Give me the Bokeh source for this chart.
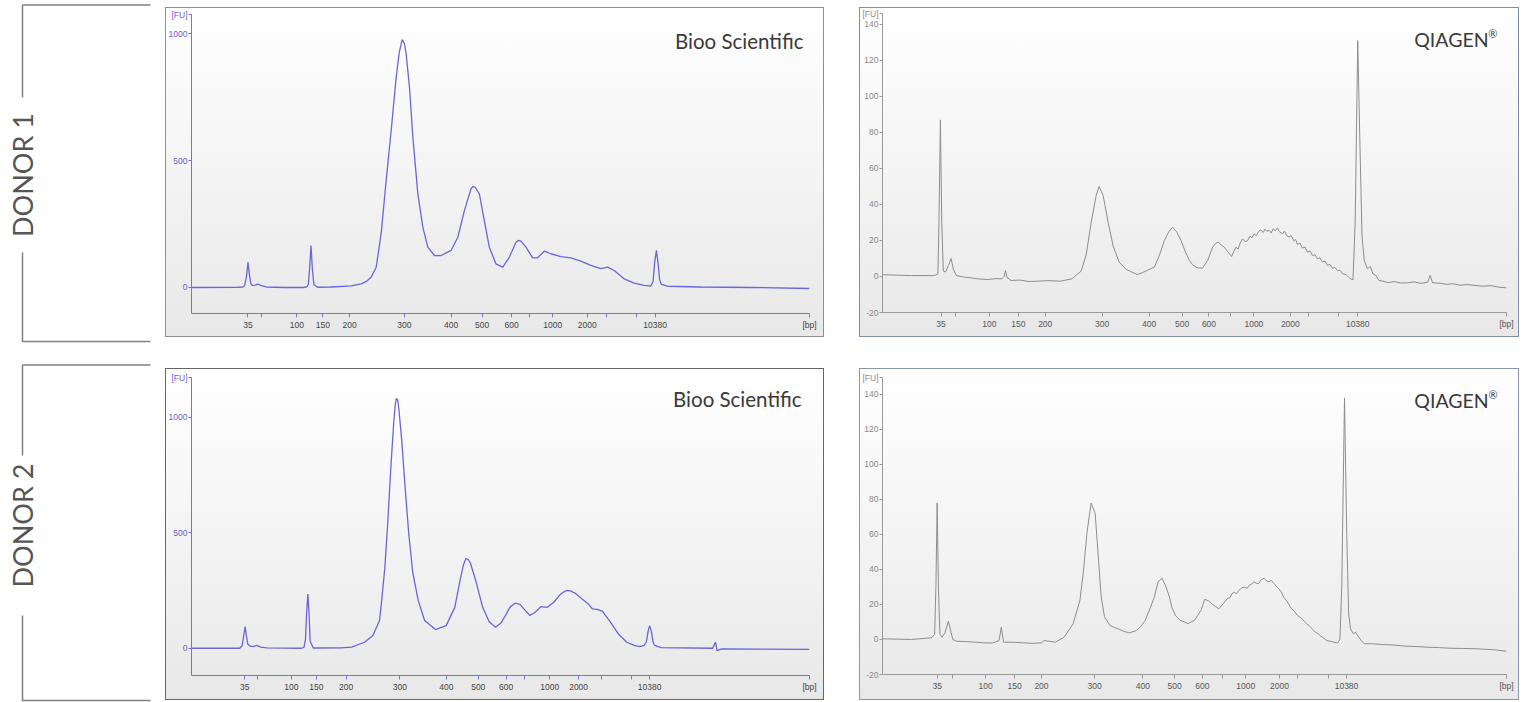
import math
from bokeh.plotting import figure
from bokeh.models import Range1d, FixedTicker, Label, Spacer
from bokeh.layouts import row, column
from bokeh.core.properties import value
from bokeh.embed import file_html
from bokeh.resources import INLINE

# ---------------- data ----------------
ladder_bp = [35, 50, 100, 150, 200, 300, 400, 500, 600, 700, 1000, 2000, 3000, 7000, 10380]
ladder_labels = ["35", "", "100", "150", "200", "300", "400", "500", "600", "", "1000", "2000", "", "", "10380"]

# migration time (s) of each ladder peak in each run
ladder_t_bioo_d1 = [49.14, 51.37, 57.04, 61.24, 65.57, 74.46, 82.0, 87.01, 91.79, 94.73, 98.45, 104.04, 107.19, 112.08, 115.02]
ladder_t_qiagen_d1 = [49.38, 51.68, 57.12, 61.76, 66.08, 75.2, 82.72, 88.0, 92.32, 95.76, 99.52, 105.36, 108.26, 113.12, 116.16]
ladder_t_bioo_d2 = [48.62, 50.71, 56.17, 60.19, 65.02, 73.7, 81.25, 86.4, 90.9, 93.95, 97.97, 102.64, 106.27, 111.16, 114.13]
ladder_t_qiagen_d2 = [48.76, 51.15, 56.53, 61.18, 65.48, 74.0, 81.72, 86.82, 91.27, 94.46, 98.22, 103.61, 106.5, 111.5, 114.36]

# electropherogram traces: time (s), fluorescence (FU)
bioo_d1_t = [40, 47.5, 48.3, 48.6, 48.9, 49.14, 49.35, 49.6, 49.85, 50.3, 50.78, 51.3, 52.1, 55, 58.2, 58.7, 58.9,
             59.1, 59.34, 59.55, 59.8, 60.4, 62.6, 65.85, 67.46, 68.3, 69.08, 69.89, 70.69, 71.5, 72.31, 73.12,
             73.6, 74.09, 74.45, 74.73, 75.27, 75.82, 76.62, 77.43, 78.24, 79.31, 80.39, 82.0, 83.09, 84.16,
             85.23, 85.55, 85.88, 86.58, 87.38, 88.19, 89.27, 90.36, 91.42, 92.5, 92.9, 93.31, 94.12, 95.2, 96.01,
             97.07, 98.16, 99.77, 101.39, 103.0, 104.62, 106.24, 107.32, 108.39, 110.0, 111.62, 113.23, 114.32,
             114.7, 114.95, 115.23, 115.5, 115.75, 116.04, 117.01, 122.4, 130.5, 140]
bioo_d1_fu = [0, 1, 2, 8, 45, 100, 55, 15, 8, 9, 13, 7, 2, 0, 0, 3, 12,
              70, 165, 75, 12, 1, 2, 6, 14, 24, 41, 80, 213, 422, 619, 829,
              925, 977, 962, 922, 790, 592, 370, 238, 159, 126, 126, 146, 198, 303,
              389, 398, 396, 369, 264, 159, 93, 80, 119, 178, 186, 183, 159, 117, 117,
              143, 133, 122, 117, 104, 87, 74, 80, 67, 34, 17, 8, 5,
              25, 100, 146, 95, 30, 12, 5, 2, 0, -4]

qiagen_d1_t = [40, 44.64, 48.32, 48.88, 49.05, 49.28, 49.5, 49.75, 50.1, 50.55, 51.0, 51.35, 51.84, 53.0, 54.08,
               55.5, 56.96, 58.0, 59.14, 59.5, 59.71, 59.95, 60.58, 62.0, 63.5, 64.91, 66.5, 68.53, 70.34, 71.84,
               72.64, 73.44, 74.24, 74.72, 75.36, 76.16, 76.96, 77.92, 79.04, 80.8, 81.44, 82.5, 83.57, 84.4,
               85.17, 85.9, 86.51, 87.2, 87.84, 88.5, 89.17, 89.7, 90.24, 90.8, 91.31, 92.11, 92.5, 92.91, 93.4,
               93.81, 94.3, 94.77, 95.4, 95.95, 96.3, 96.64, 97.0, 97.3, 97.71, 98.1, 98.51, 98.9, 99.2, 99.57,
               99.9, 100.3, 100.64, 101.0, 101.3, 101.6, 101.97, 102.3, 102.6, 102.95, 103.31, 103.6, 104.11,
               104.4, 104.8, 105.17, 105.5, 105.9, 106.2, 106.51, 106.9, 107.3, 107.7, 108.11, 108.5, 108.9,
               109.3, 109.71, 110.1, 110.5, 110.9, 111.31, 111.7, 112.1, 112.5, 112.91, 113.3, 113.8, 114.3,
               114.7, 115.04, 115.4, 115.75, 116.16, 116.5, 116.85, 117.2, 117.71, 118.2, 118.6, 119.0, 119.57,
               120.2, 121.0, 122.0, 123.0, 124.16, 125.2, 126.3, 127.36, 127.76, 128.16, 129.5, 130.5, 131.36,
               132.5, 133.8, 134.98, 136.2, 137.5, 138.7, 140]
qiagen_d1_fu = [1, 0.5, 0.5, 1.5, 30, 87, 30, 3, 2.5, 6, 10, 4, 0.5, -0.3, -0.7,
                -1.4, -1.7, -1.2, -1.3, 0, 3.3, -0.5, -2.2, -2.0, -2.8, -2.6, -2.3, -2.6, -1.3, 3,
                12, 30, 45, 50, 45, 30, 17, 8, 4, 1.1, 1.8, 3.5, 5.2, 12,
                20, 25, 27.4, 24.5, 20, 14, 8.9, 6.5, 5.2, 4.6, 4.8, 8.9, 12.5, 16.3, 18.5,
                19, 17.5, 16.3, 13.5, 11.1, 14, 16.3, 15.2, 18.5, 20.9, 19.3, 20, 22.4, 21.5, 23.7,
                22.6, 25.1, 25.9, 24.4, 26.3, 25.1, 25.6, 24.2, 26.5, 25.4, 27, 24.9, 23.7,
                25.2, 22.6, 21.9, 22.8, 19.9, 20.5, 17.8, 18.6, 15.8, 16.4, 13.5, 14.2, 11.6,
                12.1, 9.8, 10.4, 8.2, 8.6, 6.1, 6.8, 4.6, 5.0, 3.3, 3.5, 1.4, 1.0,
                -0.4, -1.3, -1.8, 30, 131, 75, 22, 9, 4.3, 5.5, 1.5, 0.8, -2.2,
                -2.6, -3.4, -2.8, -3.6, -3.5, -3.0, -3.8, -3.2, 0.6, -3.5, -3.8, -4.4, -4,
                -4.8, -4.5, -5, -5.4, -5.1, -5.9, -6.3]

bioo_d2_t = [40, 47.81, 48.2, 48.45, 48.67, 48.85, 49.1, 49.58, 50.06, 50.55, 51.19, 52.15, 57.78, 58.2, 58.45,
             58.62, 58.83, 59.02, 59.2, 59.71, 64.21, 65.9, 67.99, 69.36, 70.42, 70.77, 71.29, 71.77, 72.25,
             72.73, 72.95, 73.14, 73.35, 73.54, 74.02, 74.5, 75.14, 75.79, 76.69, 77.72, 79.48, 81.21, 82.6,
             83.5, 84.0, 84.39, 84.75, 85.11, 85.92, 87.12, 88.17, 89.21, 90.1, 90.95, 91.54, 92.35, 93.15,
             93.96, 94.76, 95.56, 96.53, 97.57, 98.62, 99.58, 100.2, 100.71, 101.3, 101.99, 103.12, 104.08,
             104.89, 105.69, 106.5, 107.62, 109.07, 110.43, 111.64, 112.53, 113.25, 113.6, 113.9, 114.13,
             114.4, 114.7, 114.97, 115.98, 124.34, 124.78, 125.05, 125.76, 140]
bioo_d2_fu = [0, 0, 12, 55, 94, 60, 18, 8, 8, 12, 5, 2, 0, 4, 40,
              150, 235, 150, 30, 1, 2, 5, 26, 55, 120, 206, 350, 550, 780,
              980, 1050, 1081, 1075, 1040, 900, 720, 500, 330, 206, 120, 81, 98, 177,
              300, 360, 388, 385, 370, 300, 177, 115, 91, 110, 149, 178, 195, 190,
              165, 142, 155, 180, 177, 199, 230, 243, 250, 248, 240, 215, 195,
              170, 168, 160, 120, 62, 26, 12, 7, 12, 28, 75, 98,
              75, 25, 12, 3, 0, 26, -10, -3, -5]

qiagen_d2_t = [40, 44.67, 47.9, 48.36, 48.56, 48.76, 48.96, 49.2, 49.55, 50.03, 50.56, 50.99, 51.27, 51.85, 53.3,
               54.73, 56.2, 57.61, 58.68, 59.04, 59.39, 61.0, 62.61, 64.0, 65.48, 65.88, 67.68, 69.11, 70.55,
               71.62, 72.17, 72.8, 73.44, 74.08, 74.63, 75.03, 75.57, 76.46, 77.2, 77.82, 78.7, 79.57, 80.68,
               81.4, 82.1, 82.9, 83.54, 84.17, 84.81, 85.45, 86.0, 86.4, 87.0, 87.68, 88.3, 88.95, 89.5, 90.0,
               90.5, 91.08, 91.64, 92.27, 92.9, 93.4, 93.9, 94.4, 94.94, 95.3, 95.7, 96.0, 96.37, 96.7, 97.1,
               97.5, 97.96, 98.4, 98.8, 99.2, 99.55, 99.9, 100.3, 100.7, 101.15, 101.5, 101.9, 102.3, 102.74,
               103.1, 103.5, 103.9, 104.33, 104.9, 105.45, 106.0, 106.5, 107.2, 107.6, 107.93, 108.3, 108.6,
               109.0, 109.36, 109.8, 110.2, 110.7, 111.18, 112.0, 112.93, 113.3, 113.6, 114.04, 114.4, 114.7,
               115.0, 115.48, 115.8, 116.19, 116.7, 117.23, 118.5, 120.1, 121.8, 123.76, 125.5, 127.34, 129.1,
               130.93, 133.0, 135.22, 138.09, 140]
qiagen_d2_fu = [0.4, 0, 1, 3, 30, 78, 30, 3, 1.3, 4, 10.5, 4, 0, -1, -1.2,
                -1.5, -1.9, -2, -0.6, 7, -1.5, -1.6, -1.9, -2.2, -1.9, -0.6, -1.5, 1.3, 9,
                22, 38, 62, 78, 72, 45, 25, 13, 8, 6.8, 6, 4.6, 3.8, 5.1,
                7.5, 10.9, 18, 24, 33, 35, 30, 24, 18, 13.5, 11, 10.2, 9, 10.1, 11,
                13.6, 17, 23, 22, 20, 18.8, 17.5, 19.6, 22, 23.5, 24, 26.2, 27, 26.1, 28,
                29.3, 30, 29.2, 31, 31.8, 33, 32.1, 32, 34.2, 35, 33.6, 33, 33.8, 32,
                30.5, 29, 27.2, 24, 21.5, 18, 16.2, 13.7, 12, 10.4, 9, 8.2, 7,
                5.6, 4.2, 3.4, 2, 0.8, -0.6, -1.2, -2, 0, 30, 138, 60, 15,
                6, 3.3, 4.2, 2, -0.5, -2.5, -2.4, -2.9, -3.1, -3.8, -4.0, -4.4, -4.6,
                -5, -5.1, -5.3, -5.9, -6.7]

panel_names = ["Bioo Scientific", "QIAGEN", "Bioo Scientific", "QIAGEN"]
panel_marks = ["", "\u00ae", "", "\u00ae"]
donor_names = ["DONOR 1", "DONOR 2"]

# ---------------- style ----------------
TICK_FONT = "Liberation Sans"
BIOO_LINE = "#6a66d8"
BIOO_AXIS = "#7a70d6"
BIOO_YLAB = "#6b5fcf"
Q_LINE = "#8d8d8d"
Q_AXIS = "#9a9a9a"
Q_YLAB = "#8a8a8a"


def make_panel(w, h, bl, br, bt, bb, y_rng, y_ticks, t, fu, ladder_t, name, mark,
               line_color, axis_color, ylab_color, xlab_color, frame_color,
               title_size, title_dx, title_dy, line_width):
    x0, x1 = 40, 140
    p = figure(width=w, height=h, x_range=Range1d(x0, x1), y_range=Range1d(*y_rng),
               output_backend="svg", toolbar_location=None,
               min_border_left=bl, min_border_right=br, min_border_top=bt, min_border_bottom=bb)
    p.background_fill_alpha = 0
    p.border_fill_alpha = 0
    p.outline_line_color = None
    p.xgrid.visible = False
    p.ygrid.visible = False
    p.styles = {"background": "linear-gradient(to bottom, #ffffff 0%, #f3f3f3 55%, #e8e8e8 100%)",
                "outline": "1px solid " + frame_color, "outline-offset": "-1px"}

    p.line(t, fu, line_color=line_color, line_width=line_width)

    # x axis: ladder ticks plus the unit label at the end
    xt = list(ladder_t) + [x1 - 0.001]
    xl = {tv: lab for tv, lab in zip(ladder_t, ladder_labels)}
    xl[x1 - 0.001] = "[bp]"
    xa = p.xaxis[0]
    xa.ticker = FixedTicker(ticks=xt)
    xa.major_label_overrides = xl
    xa.minor_tick_line_color = None
    xa.major_tick_in = 0
    xa.major_tick_out = 4
    xa.major_label_standoff = 2
    xa.axis_line_color = axis_color
    xa.major_tick_line_color = axis_color
    xa.major_label_text_color = xlab_color
    xa.major_label_text_font = TICK_FONT
    xa.major_label_text_font_size = "8.5px"

    ytop = y_rng[1] - 0.001
    yt = list(y_ticks) + [ytop]
    yl = {v: str(v) for v in y_ticks}
    yl[ytop] = "[FU]"
    ya = p.yaxis[0]
    ya.ticker = FixedTicker(ticks=yt)
    ya.major_label_overrides = yl
    ya.minor_tick_line_color = None
    ya.major_tick_in = 0
    ya.major_tick_out = 3
    ya.major_label_standoff = 1
    ya.axis_line_color = axis_color
    ya.major_tick_line_color = axis_color
    ya.major_label_text_color = ylab_color
    ya.major_label_text_font = TICK_FONT
    ya.major_label_text_font_size = "8.5px"

    # panel name, top-right inside the plot
    ph = h - bt - bb
    pw = w - bl - br
    fy = (y_rng[1] - y_rng[0]) / ph
    fx = (x1 - x0) / pw
    ty = y_rng[1] - title_dy * fy
    if mark:
        p.add_layout(Label(x=x1 - title_dx * fx, y=ty + 6 * fy, text=mark, text_align="right",
                           text_baseline="alphabetic", text_font="Lato", text_font_size="11px",
                           text_color="#3a3a3a"))
        dx = title_dx + 9
    else:
        dx = title_dx
    p.add_layout(Label(x=x1 - dx * fx, y=ty, text=name, text_align="right", text_baseline="alphabetic",
                       text_font="Lato", text_font_size=title_size, text_color="#3a3a3a"))
    return p


p_tl = make_panel(659, 330, 25, 15, 7, 24, (-102.5, 1076), [0, 500, 1000],
                  bioo_d1_t, bioo_d1_fu, ladder_t_bioo_d1, panel_names[0], panel_marks[0],
                  BIOO_LINE, BIOO_AXIS, BIOO_YLAB, "#444444", "#8f8f8f", "20.5px", 6, 26, 1.3)
p_tr = make_panel(660, 330, 22, 13, 6, 25, (-20, 146.1), [-20, 0, 20, 40, 60, 80, 100, 120, 140],
                  qiagen_d1_t, qiagen_d1_fu, ladder_t_qiagen_d1, panel_names[1], panel_marks[1],
                  Q_LINE, Q_AXIS, Q_YLAB, "#555555", "#7d90a6", "19.5px", 9, 26, 1.0)
p_bl = make_panel(659, 332, 24, 13, 9, 25, (-118, 1172), [0, 500, 1000],
                  bioo_d2_t, bioo_d2_fu, ladder_t_bioo_d2, panel_names[2], panel_marks[2],
                  BIOO_LINE, BIOO_AXIS, BIOO_YLAB, "#444444", "#666666", "20.5px", 8, 21, 1.3)
p_br = make_panel(660, 332, 22, 10, 9, 26, (-20, 149.7), [-20, 0, 20, 40, 60, 80, 100, 120, 140],
                  qiagen_d2_t, qiagen_d2_fu, ladder_t_qiagen_d2, panel_names[3], panel_marks[3],
                  Q_LINE, Q_AXIS, Q_YLAB, "#555555", "#8497ad", "19.5px", 9, 23, 1.0)

# ---------------- donor labels with brackets ----------------
lab = figure(width=165, height=702, x_range=Range1d(0, 165), y_range=Range1d(702, 0),
             output_backend="svg", toolbar_location=None, min_border=0)
lab.axis.visible = False
lab.xgrid.visible = False
lab.ygrid.visible = False
lab.outline_line_color = None
BR_COL = "#808080"
brackets = [(4.5, 97, 252, 341, 174.5), (364.5, 455, 615, 700, 525)]
for (top, gap0, gap1, bot, mid), name in zip(brackets, donor_names):
    lab.line([150, 22, 22], [top, top, gap0], line_color=BR_COL, line_width=1.5)
    lab.line([22, 22, 150], [gap1, bot, bot], line_color=BR_COL, line_width=1.5)
    lab.text(x=[22], y=[mid], text=[name], angle=math.pi / 2, text_align="center",
             text_baseline="middle", text_font=value("Lato"),
             text_font_size="27px", text_color="#555555")

layout = row(lab,
             column(Spacer(width=659, height=7), p_tl, Spacer(width=659, height=31), p_bl),
             Spacer(width=35, height=700),
             column(Spacer(width=660, height=7), p_tr, Spacer(width=660, height=31), p_br))

open("out.html", "w").write(file_html(layout, INLINE))
